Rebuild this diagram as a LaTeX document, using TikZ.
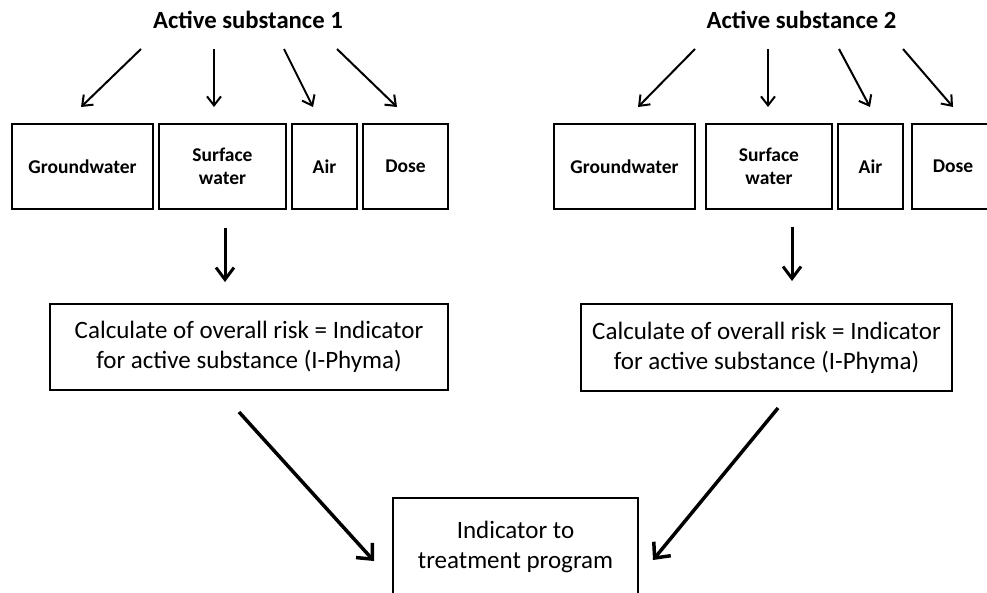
\documentclass[tikz,border=0pt]{standalone}
\usepackage{fontspec}
\setmainfont{Carlito}
\usetikzlibrary{arrows.meta}
\begin{document}
\begin{tikzpicture}[x=1pt,y=-1pt,
  box/.style={draw,line width=2pt,inner sep=0pt,minimum height=85pt,
    font=\bfseries\fontsize{19.5}{23}\selectfont,align=center},
  bigbox/.style={draw,line width=2pt,inner sep=0pt,
    font=\fontsize{25}{30}\selectfont,align=center},
  title/.style={font=\bfseries\fontsize{24.7}{29}\selectfont,anchor=base,inner sep=0pt},
  thinarrow/.style={line width=2pt,-{Straight Barb[length=9pt,width=14pt]}},
  midarrow/.style={line width=3pt,-{Straight Barb[length=12pt,width=18pt]}},
  bigarrow/.style={line width=3.5pt,-{Straight Barb[length=12pt,width=22pt]}},
]
\clip (0,0) rectangle (987,592);
\fill[white] (0,0) rectangle (987,592);

% titles
\node[title] (t1) at (248,28) {Active substance 1};
\node[title] (t2) at (801.5,28) {Active substance 2};

% left boxes
\node[box,minimum width=141pt] (gw1)   at (82.5,166.5) {Groundwater};
\node[box,minimum width=127pt] (sw1)   at (222.5,166.5) {Surface\\water};
\node[box,minimum width=65pt]  (air1)  at (324.5,166.5) {Air};
\node[box,minimum width=85pt]  (dose1) at (405.5,166.5) {Dose};

% right boxes
\node[box,minimum width=141pt] (gw2)   at (624.5,166.5) {Groundwater};
\node[box,minimum width=126pt] (sw2)   at (769,166.5) {Surface\\water};
\node[box,minimum width=65pt]  (air2)  at (870.5,166.5) {Air};
\node[box,minimum width=82pt]  (dose2) at (953,166.5) {Dose};

% calculation boxes
\node[bigbox,minimum width=398pt,minimum height=86pt] (calc1) at (249,347)
  {Calculate of overall risk = Indicator\\for active substance (I-Phyma)};
\node[bigbox,minimum width=371pt,minimum height=87pt] (calc2) at (766.5,347.5)
  {Calculate of overall risk = Indicator\\for active substance (I-Phyma)};

% final box
\node[bigbox,minimum width=245pt,minimum height=98pt] (ind) at (515.5,547)
  {Indicator to\\treatment program};

% arrow end points
\coordinate (a1s) at (141,49);  \coordinate (a1e) at (81,107);
\coordinate (a2s) at (214,49);  \coordinate (a2e) at (214,107);
\coordinate (a3s) at (284,49);  \coordinate (a3e) at (313,107);
\coordinate (a4s) at (337,49);  \coordinate (a4e) at (397,107);
\coordinate (b1s) at (695,49);  \coordinate (b1e) at (638,107);
\coordinate (b2s) at (768,49);  \coordinate (b2e) at (768,107);
\coordinate (b3s) at (839,49);  \coordinate (b3e) at (870,107);
\coordinate (b4s) at (903,49);  \coordinate (b4e) at (953,107);
\coordinate (d1s) at (225,228); \coordinate (d1e) at (225,282);
\coordinate (d2s) at (792,227); \coordinate (d2e) at (792,281);
\coordinate (e1s) at (239,412); \coordinate (e1e) at (374,561);
\coordinate (e2s) at (778,408); \coordinate (e2e) at (653,560);

\draw[thinarrow] (a1s) -- (a1e);
\draw[thinarrow] (a2s) -- (a2e);
\draw[thinarrow] (a3s) -- (a3e);
\draw[thinarrow] (a4s) -- (a4e);
\draw[thinarrow] (b1s) -- (b1e);
\draw[thinarrow] (b2s) -- (b2e);
\draw[thinarrow] (b3s) -- (b3e);
\draw[thinarrow] (b4s) -- (b4e);
\draw[midarrow] (d1s) -- (d1e);
\draw[midarrow] (d2s) -- (d2e);
\draw[bigarrow] (e1s) -- (e1e);
\draw[bigarrow] (e2s) -- (e2e);
\end{tikzpicture}
\end{document}
